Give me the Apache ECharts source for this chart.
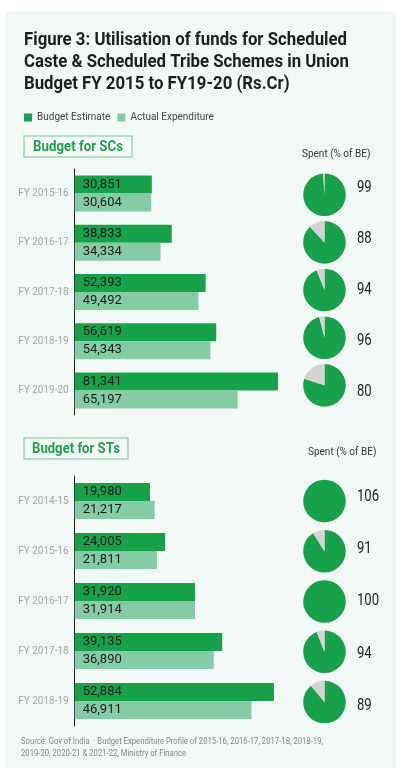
<!DOCTYPE html>
<html>
<head>
<meta charset="utf-8">
<script src="https://cdn.jsdelivr.net/npm/echarts@6/dist/echarts.min.js"></script>
<style>
html,body{margin:0;padding:0;background:#fff;}
#main{width:398px;height:772px;}
</style>
</head>
<body>
<div id="main"></div>
<script>
// data
var scYears = ['FY 2015-16', 'FY 2016-17', 'FY 2017-18', 'FY 2018-19', 'FY 2019-20'];
var scBudget = [30851, 38833, 52393, 56619, 81341];
var scActual = [30604, 34334, 49492, 54343, 65197];
var scSpent = [99, 88, 94, 96, 80];

var stYears = ['FY 2014-15', 'FY 2015-16', 'FY 2016-17', 'FY 2017-18', 'FY 2018-19'];
var stBudget = [19980, 24005, 31920, 39135, 52884];
var stActual = [21217, 21811, 31914, 36890, 46911];
var stSpent = [106, 91, 100, 94, 89];

var titleLines = [
    'Figure 3: Utilisation of funds for Scheduled',
    'Caste & Scheduled Tribe Schemes in Union',
    'Budget FY 2015 to FY19-20 (Rs.Cr)'
];
var sourceLines = [
    'Source: Gov of India  \u00b7 Budget Expenditure Profile of 2015-16, 2016-17, 2017-18, 2018-19,',
    '2019-20, 2020-21 & 2021-22, Ministry of Finance'
];

var FONT = 'Roboto, sans-serif';
var DARK = '#18a14b';
var LIGHT = '#85cba6';
var GREY = '#d3d3d3';

var measureCtx = document.createElement('canvas').getContext('2d');
function textWidth(str, font) {
    measureCtx.font = font;
    return measureCtx.measureText(str).width;
}

function fmt(v) {
    return Number(v).toLocaleString('en-US');
}

function pointData(years, spent) {
    var arr = [];
    for (var i = 0; i < years.length; i++) {
        arr.push([0.5, years[i], spent[i]]);
    }
    return arr;
}

//小饼图
function renderPie(params, api) {
    var c = api.coord([api.value(0), api.value(1)]);
    var pct = api.value(2);
    var r = 21.3;
    var start = -Math.PI / 2;
    var end = start + Math.PI * 2 * Math.min(pct, 100) / 100;
    var children = [{
        type: 'sector',
        shape: {cx: c[0], cy: c[1], r: r, r0: 0, startAngle: start, endAngle: end, clockwise: true},
        style: {fill: DARK}
    }];
    if (pct < 100) {
        children.push({
            type: 'sector',
            shape: {cx: c[0], cy: c[1], r: r, r0: 0, startAngle: end, endAngle: start + Math.PI * 2, clockwise: true},
            style: {fill: GREY}
        });
    }
    return {type: 'group', children: children};
}

//百分比数字
function renderSpent(params, api) {
    var c = api.coord([0, api.value(1)]);
    return {
        type: 'text',
        x: c[0], y: c[1],
        scaleX: 0.82,
        style: {
            x: 0, y: 0,
            text: String(api.value(2)),
            fill: '#222',
            font: '16px ' + FONT,
            align: 'left', verticalAlign: 'middle'
        }
    };
}

function barLabel() {
    return {
        show: true,
        position: 'insideLeft',
        distance: 8,
        color: '#1c1c1c',
        fontSize: 13,
        fontFamily: FONT,
        formatter: function (p) { return fmt(p.value); }
    };
}

function catAxis(idx, years, showAxis) {
    return {
        type: 'category',
        gridIndex: idx,
        data: years,
        inverse: true,
        axisLine: {show: showAxis, lineStyle: {color: '#222', width: 1}},
        axisTick: {show: false},
        axisLabel: {show: showAxis, margin: 6, color: '#a5a5a5', fontSize: 10, fontFamily: FONT},
        splitLine: {show: false}
    };
}

// condensed looking text: squeeze to target width
function squeezedText(str, font, x, y, targetW, fill) {
    var s = targetW / textWidth(str, font);
    return {
        type: 'text', x: x, y: y, scaleX: s,
        style: {x: 0, y: 0, text: str, font: font, fill: fill, align: 'left', verticalAlign: 'middle'}
    };
}

function sectionBox(str, x, y, w, h, textW) {
    var font = 'bold 15px ' + FONT;
    var s = textW / textWidth(str, font);
    return {
        type: 'group',
        children: [{
            type: 'rect',
            shape: {x: x, y: y, width: w, height: h},
            style: {fill: '#f6fbf8', stroke: '#9ed5b4', lineWidth: 1.5}
        }, {
            type: 'text', x: x + w / 2, y: y + h / 2 + 0.5, scaleX: s,
            style: {x: 0, y: 0, text: str, font: font, fill: '#20a04e', align: 'center', verticalAlign: 'middle'}
        }]
    };
}

var titleFont = 'bold 19px ' + FONT;
var titleScale = 323 / textWidth(titleLines[0], titleFont);
var graphics = [{
    type: 'rect',
    z: -10,
    shape: {x: 5, y: 11, width: 391, height: 757},
    style: {fill: '#f2f8f5'}
}];
for (var i = 0; i < titleLines.length; i++) {
    graphics.push({
        type: 'text', x: 24, y: 40 + i * 22, scaleX: titleScale,
        style: {x: 0, y: 0, text: titleLines[i], font: titleFont, fill: '#1e1e1e', align: 'left', verticalAlign: 'middle'}
    });
}
graphics.push(sectionBox('Budget for SCs', 24, 136, 108, 21, 90));
graphics.push(sectionBox('Budget for STs', 24, 438, 104, 21, 88));
var srcFont = '9px ' + FONT;
var srcScale = 302 / textWidth(sourceLines[0], srcFont);
for (var j = 0; j < sourceLines.length; j++) {
    graphics.push({
        type: 'text', x: 21, y: 741.5 + j * 12, scaleX: srcScale,
        style: {x: 0, y: 0, text: sourceLines[j], font: srcFont, fill: '#858585', align: 'left', verticalAlign: 'middle'}
    });
}

var myChart = echarts.init(document.getElementById('main'));

myChart.setOption({
    backgroundColor: '#ffffff',
    animation: false,
    textStyle: {fontFamily: FONT},
    graphic: graphics,
    title: [{
        text: 'Spent (% of BE)',
        left: 302, top: 149.5, padding: 0,
        textStyle: {fontSize: 10, fontWeight: 'normal', color: '#333', fontFamily: FONT}
    }, {
        text: 'Spent (% of BE)',
        left: 308, top: 447.5, padding: 0,
        textStyle: {fontSize: 10, fontWeight: 'normal', color: '#333', fontFamily: FONT}
    }],
    legend: {
        data: ['Budget Estimate', 'Actual Expenditure'],
        left: 24, top: 112.5, padding: 0,
        icon: 'rect', itemWidth: 8, itemHeight: 8, itemGap: 7,
        textStyle: {fontSize: 10, color: '#444', fontFamily: FONT}
    },
    grid: [
        {left: 74.7, top: 169, width: 203.3, height: 246},
        {left: 303, top: 170.9, width: 43, height: 238.3},
        {left: 357, top: 162.9, width: 20, height: 254.2},
        {left: 74.7, top: 476, width: 199.3, height: 250},
        {left: 303, top: 475.9, width: 43, height: 251.3},
        {left: 357, top: 470.6, width: 20, height: 261.3}
    ],
    xAxis: [
        {type: 'value', gridIndex: 0, min: 0, max: 'dataMax', show: false},
        {type: 'value', gridIndex: 1, min: 0, max: 1, show: false},
        {type: 'value', gridIndex: 2, min: 0, max: 1, show: false},
        {type: 'value', gridIndex: 3, min: 0, max: 'dataMax', show: false},
        {type: 'value', gridIndex: 4, min: 0, max: 1, show: false},
        {type: 'value', gridIndex: 5, min: 0, max: 1, show: false}
    ],
    yAxis: [
        catAxis(0, scYears, true),
        catAxis(1, scYears, false),
        catAxis(2, scYears, false),
        catAxis(3, stYears, true),
        catAxis(4, stYears, false),
        catAxis(5, stYears, false)
    ],
    series: [{
        name: 'Budget Estimate', type: 'bar', xAxisIndex: 0, yAxisIndex: 0,
        data: scBudget, barWidth: 18, barGap: '0%',
        itemStyle: {color: DARK}, label: barLabel()
    }, {
        name: 'Actual Expenditure', type: 'bar', xAxisIndex: 0, yAxisIndex: 0,
        data: scActual, barWidth: 18, barGap: '0%',
        itemStyle: {color: LIGHT}, label: barLabel()
    }, {
        name: 'Budget Estimate', type: 'bar', xAxisIndex: 3, yAxisIndex: 3,
        data: stBudget, barWidth: 18, barGap: '0%',
        itemStyle: {color: DARK}, label: barLabel()
    }, {
        name: 'Actual Expenditure', type: 'bar', xAxisIndex: 3, yAxisIndex: 3,
        data: stActual, barWidth: 18, barGap: '0%',
        itemStyle: {color: LIGHT}, label: barLabel()
    }, {
        name: 'SC pie', type: 'custom', xAxisIndex: 1, yAxisIndex: 1,
        data: pointData(scYears, scSpent), renderItem: renderPie,
        encode: {x: 0, y: 1}
    }, {
        name: 'SC spent', type: 'custom', xAxisIndex: 2, yAxisIndex: 2,
        data: pointData(scYears, scSpent), renderItem: renderSpent,
        encode: {x: 0, y: 1}
    }, {
        name: 'ST pie', type: 'custom', xAxisIndex: 4, yAxisIndex: 4,
        data: pointData(stYears, stSpent), renderItem: renderPie,
        encode: {x: 0, y: 1}
    }, {
        name: 'ST spent', type: 'custom', xAxisIndex: 5, yAxisIndex: 5,
        data: pointData(stYears, stSpent), renderItem: renderSpent,
        encode: {x: 0, y: 1}
    }]
});
</script>
</body>
</html>
